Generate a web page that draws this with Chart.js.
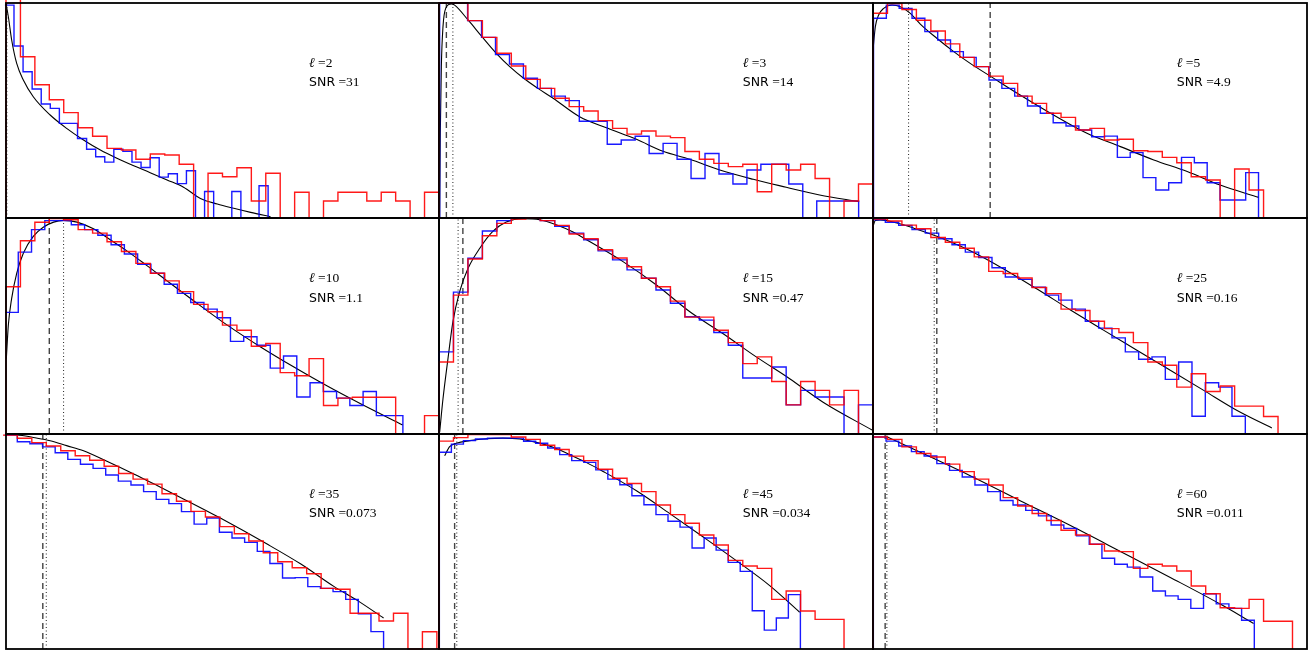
<!DOCTYPE html>
<html>
<head>
<script src="https://cdn.jsdelivr.net/npm/chart.js@4.4.1/dist/chart.umd.min.js"></script>
<style>
  body { margin: 0; background: #fff; width: 1309px; height: 652px; overflow: hidden; position: relative; }
  canvas { position: absolute; }
</style>
</head>
<body>
<script>
// panel labels
var ells = [2, 3, 5, 10, 15, 25, 35, 45, 60];
var snrText = ['31', '14', '4.9', '1.1', '0.47', '0.16', '0.073', '0.034', '0.011'];

// histogram binning (x in % of panel width)
var redStart = [0, 0, 0, 0, 0, 0, -0.72, 0, 0];
var redWidth = [3.333, 3.333, 3.333, 3.333, 3.333, 3.333, 3.341, 3.333, 3.333];
var blueStart = [-0.25, 0.15, 0.12, -0.23, 0, -0.23, -0.31, 0.08, 0.08];
var blueWidth = [2.096, 3.218, 2.957, 3.063, 3.333, 3.072, 2.917, 2.773, 2.926];

// vertical marker lines
var dashedX = [null, 1.7, 27, 10, 5.5, 14.7, 8.5, 3.6, 2.8];
var dottedX = [0.2, 3.2, 8.2, 13.3, 4.4, 14.1, 9.3, 4.1, 3.2];

// histogram heights
var red_l2 = [130, 75, 62, 55, 49, 42, 38, 32.4, 31.6, 27.3, 29.8, 29.3, 25, 0, 20.8, 19.2, 23.4, 7.9, 20.8, 0, 12, 0, 7.9, 12, 12, 7.9, 12, 7.9, 0, 12];
var blue_l2 = [99, 80, 68, 60, 53, 51, 44, 44, 37, 32, 28.5, 26, 32, 31, 26, 23.5, 28, 19, 20.6, 16, 22, 0, 12.3, 0, 0, 12.3, 0, 0, 15, 0];
var red_l3 = [100, 100, 91.8, 84, 76.6, 70.7, 64.5, 60.3, 55.7, 51.8, 49.8, 45.3, 41.7, 39, 40.5, 38.1, 37.4, 30.9, 27.3, 25.4, 23.9, 25, 12.2, 25, 22.3, 25, 18.4, 0, 7.9, 15.8];
var blue_l3 = [100, 100, 91.8, 84, 76, 71.6, 65, 60.3, 56.7, 54.6, 45, 45, 34.3, 36.3, 38, 30, 34.7, 27.3, 18.4, 30, 20.5, 15.8, 22.3, 25, 25, 15.8, 0, 7.9, 7.9, 7.9];
var red_l5 = [95.2, 99.8, 97, 92, 87, 81, 74.7, 70.4, 66, 62.6, 56.7, 53.3, 48.7, 46.8, 40.9, 41.7, 36.3, 36.6, 31.3, 30.9, 28.2, 25.7, 19.2, 17.7, 0, 22.8, 13];
var blue_l5 = [92.9, 99, 97.5, 92.9, 86.7, 82.8, 77.4, 74.7, 70.4, 64.2, 60.3, 56.7, 52.1, 48.7, 44.3, 42.8, 40.9, 37.8, 38.1, 28.2, 30.4, 18.8, 13, 16.4, 28.2, 25.7, 16.4, 8.4, 8.4, 21.1];
var red_l10 = [68.2, 89.5, 98, 99.7, 99.2, 94.6, 93, 89, 84.5, 79, 74.4, 70.9, 65.9, 60, 56.6, 50.4, 48, 40.6, 41.9, 28.4, 27, 34.9, 13.2, 16.6, 17, 17, 17, 0, 0, 8.5];
var blue_l10 = [56.3, 84.2, 94.6, 98.8, 98.8, 96.9, 94.6, 92, 87.6, 83.3, 78.6, 74.4, 69.3, 65.1, 60.9, 57.8, 53.8, 42.9, 45, 41.1, 30.5, 36.1, 17.1, 23.7, 19.7, 16.6, 13.2, 19.7, 8.5, 8.5];
var red_l15 = [33.3, 64.3, 81, 91.8, 97.5, 99.5, 100, 98.8, 96.6, 92.6, 90.4, 85.3, 81.5, 77.4, 72.1, 68.2, 61.5, 54.1, 54.1, 48, 42.3, 32.6, 35.7, 24.3, 13.5, 24.3, 20.2, 13.5, 20.2, 0];
var blue_l15 = [38, 65.7, 81.4, 94, 98.8, 100, 100, 98.8, 96.1, 93, 89.9, 84.8, 80.6, 76, 72.1, 66.7, 60.5, 54.3, 52.7, 47, 41.1, 25.9, 25.9, 31, 13.5, 20.2, 17.1, 17.1, 0, 13.5];
var red_l25 = [99.5, 98.6, 96.7, 95, 91, 88.8, 86, 82, 75.3, 74.3, 72.2, 67.8, 65, 57.8, 57.2, 52.2, 48.8, 47, 42.3, 33.3, 31.8, 21.7, 27.9, 19.7, 22.2, 12.9, 12.9, 8.1];
var blue_l25 = [99.2, 98, 96.6, 94.6, 93, 90.4, 87.6, 84.2, 81.7, 77, 72.7, 71.6, 68, 64.3, 62, 57.8, 52.2, 49, 44.5, 38, 34.6, 35.7, 25.3, 33.3, 8.2, 23.7, 21.7, 8.2];
var red_l35 = [99.5, 98, 96, 94.4, 92.2, 89.9, 87.8, 85, 81.6, 79, 76.7, 72.2, 68.7, 64, 61.4, 56.9, 53.6, 50.2, 44.8, 40.6, 37.8, 35, 28.2, 27.8, 16.6, 16.6, 13, 16.6, 0, 8];
var blue_l35 = [99.5, 96.4, 95.5, 94, 91.3, 88.2, 85.9, 84, 80.9, 78.1, 76.3, 73.2, 69.6, 67.6, 63.9, 58.1, 60.9, 54.3, 51.6, 49.6, 45.4, 39.8, 33, 33.2, 29, 28.2, 26.7, 23.1, 16.4, 8.1];
var red_l45 = [96.7, 98.3, 99.8, 99.8, 99.8, 98.6, 97.5, 94.8, 92.8, 89.7, 87.6, 83.6, 79.4, 77, 73.2, 67, 62.5, 58.5, 53, 48.4, 41.2, 38.6, 37.5, 23.1, 27, 17.7, 13.8, 13.8];
var blue_l45 = [91.5, 95.3, 96.9, 97.7, 98.1, 98.1, 98.1, 96.6, 95.7, 93.5, 90.4, 87.6, 86.8, 83.3, 79, 76.4, 71.3, 67.1, 62.5, 59.4, 56.7, 47, 51.6, 46, 40.3, 36.1, 17.8, 8.8, 14.4, 25.3];
var red_l60 = [98.6, 97.5, 94, 90.9, 89.3, 86, 82.5, 79, 76.3, 70.4, 66.5, 63, 59.8, 55.2, 53, 48.7, 45.6, 45.3, 37.5, 39.4, 38.6, 36.3, 29.3, 25.7, 19.2, 18.9, 23.1, 12.9, 12.9];
var blue_l60 = [98.6, 96.7, 94.4, 91.8, 89.8, 86.2, 83.1, 80, 76.3, 73.2, 69.1, 67, 64.5, 61.9, 57.7, 56.1, 52.6, 48.7, 42.2, 39.4, 38.1, 33.5, 27, 24.7, 23.1, 18.9, 25.7, 21, 18.9, 13.4];

// model curves (x %, y)
var curveX_l2 = [0, 0.54, 1.31, 2.47, 4.0, 6.3, 10.2, 14.0, 17.9, 21.8, 25.6, 29.5, 33.3, 37.2, 41.0, 44.9, 48.8, 52.6, 56.5, 61.1];
var curveY_l2 = [99.8, 93.6, 82.8, 71.9, 64.2, 56.4, 47.9, 41.7, 36.3, 31.6, 27.8, 24.3, 21.1, 17.7, 14.3, 9.1, 6.5, 4.5, 2.6, 0.6];
var curveX_l3 = [0.15, 0.3, 0.54, 0.92, 1.54, 2.84, 3.6, 6.7, 9.75, 13.2, 16.3, 19.5, 22.8, 26.3, 32.4, 38.9, 45.5, 51.6, 57.8, 64.7, 72.4, 80, 87.7, 96.8];
var curveY_l3 = [0, 39.4, 70.4, 89, 97.5, 99.6, 99, 92.1, 84.7, 76.6, 70.4, 65, 60.3, 55.7, 47.1, 41.7, 36.6, 31, 27.3, 22.3, 18, 14.3, 10.7, 7.6];
var curveX_l5 = [0, 0.54, 1.3, 2.46, 4.38, 6.3, 8.6, 10.9, 14.7, 18.6, 22.4, 27, 33.9, 41.6, 49.3, 57, 64.7, 72.4, 80, 88.9];
var curveY_l5 = [78.1, 89, 94.4, 97.5, 99.1, 98.3, 95.2, 90.2, 83.6, 77.4, 71.9, 66, 57.2, 47.9, 39.4, 33.2, 27, 21.6, 15.3, 9.6];
var curveX_l10 = [0.08, 0.54, 1.31, 2.47, 4.0, 6.3, 8.6, 11, 13.3, 16.4, 20.2, 24.1, 27.9, 31.8, 37.2, 43.4, 51.1, 58.8, 66.5, 74.2, 81.9, 91.6];
var curveY_l10 = [34.9, 50.4, 62.8, 74.4, 83.7, 91.5, 95.7, 98.1, 98.9, 98.1, 95, 89.9, 84.8, 79.1, 70.9, 61.6, 50.4, 40.3, 31, 22.2, 14, 4.2];
var curveX_l15 = [0.15, 0.92, 2.07, 3.2, 4.76, 6.7, 9.4, 12.4, 15.5, 19.4, 23.2, 27, 30.9, 34.7, 42.4, 50.1, 57.8, 65.4, 73.1, 80.8, 88.5, 100];
var curveY_l15 = [0.8, 16.3, 34.9, 51.9, 65.9, 76.7, 86, 93.8, 98.1, 99.7, 99.2, 96.9, 93.5, 89.1, 79.8, 69, 56.6, 46.5, 35.7, 25.6, 14.7, 1.6];
var curveX_l25 = [0, 0.54, 1.7, 5.5, 9.4, 14.7, 22.4, 30.1, 37.8, 45.5, 53.1, 60.8, 68.5, 76.2, 83.9, 91.9];
var curveY_l25 = [96.1, 98.8, 99.1, 97.7, 95.3, 91.5, 84.8, 76.4, 67.1, 57.4, 48.1, 38.8, 29.5, 20.2, 10.9, 2.8];
var curveX_l35 = [2.47, 6.3, 10.2, 14, 17.9, 23.3, 29.5, 34.9, 40.3, 49.5, 60.3, 68.1, 75.8, 81.2, 87.2];
var curveY_l35 = [99.7, 98.4, 96.9, 94.6, 92.2, 87.3, 81.4, 76, 70.5, 60.9, 48.8, 39.5, 29, 22.5, 14.4];
var curveX_l45 = [1.3, 2.46, 4, 7.1, 10.9, 14.7, 18.6, 22.4, 26.3, 30.1, 33.9, 37.8, 45.5, 53.1, 60.8, 68.5, 76.2, 83.1];
var curveY_l45 = [89.9, 94.1, 95.7, 96.9, 97.8, 98.1, 97.7, 96.1, 93.8, 90.4, 86.8, 82.6, 73.6, 63.1, 52.2, 41.1, 29.5, 17.1];
var curveX_l60 = [3.07, 10.9, 22.4, 33.9, 45.5, 57, 68.5, 80, 87.7];
var curveY_l60 = [98.8, 91.5, 80.6, 69, 57.4, 45.4, 33.3, 20.9, 11.9];

var redSets = [red_l2, red_l3, red_l5, red_l10, red_l15, red_l25, red_l35, red_l45, red_l60];
var blueSets = [blue_l2, blue_l3, blue_l5, blue_l10, blue_l15, blue_l25, blue_l35, blue_l45, blue_l60];
var curveXs = [curveX_l2, curveX_l3, curveX_l5, curveX_l10, curveX_l15, curveX_l25, curveX_l35, curveX_l45, curveX_l60];
var curveYs = [curveY_l2, curveY_l3, curveY_l5, curveY_l10, curveY_l15, curveY_l25, curveY_l35, curveY_l45, curveY_l60];

// page layout
var colLeft = [6, 439, 873];
var colWidth = [433, 434, 434];
var rowTop = [3, 218, 434];
var rowHeight = [215, 216, 215];
var pad = 10;

function histPoints(start, width, counts) {
  var pts = [{x: start, y: 0}];
  for (var i = 0; i < counts.length; i++) {
    pts.push({x: start + i * width, y: counts[i]});
  }
  pts.push({x: start + counts.length * width, y: 0});
  return pts;
}

function drawRuns(ctx, x, y, runs) {
  for (var i = 0; i < runs.length; i++) {
    ctx.font = runs[i][1];
    ctx.fillText(runs[i][0], x, y);
    x += ctx.measureText(runs[i][0]).width;
  }
}

var panelDeco = {
  id: 'panelDeco',
  afterDraw: function(chart) {
    var ctx = chart.ctx, a = chart.chartArea;
    var k = chart.options.plugins.panelDeco.index;
    var xs = chart.scales.x, ys = chart.scales.y;
    ctx.save();
    ctx.fillStyle = '#000';
    ctx.textBaseline = 'alphabetic';
    var tx = xs.getPixelForValue(70);
    var serif = '13.5px "Liberation Serif"';
    drawRuns(ctx, tx, ys.getPixelForValue(70.3), [
      ['\u2113', 'italic 13.5px "DejaVu Serif"'], [' =' + ells[k], serif]]);
    drawRuns(ctx, tx, ys.getPixelForValue(61.3), [
      ['SNR', '12.5px "DejaVu Sans"'], [' =' + snrText[k], serif]]);
    ctx.strokeStyle = '#000';
    ctx.lineWidth = 1.8;
    ctx.strokeRect(a.left, a.top, a.right - a.left, a.bottom - a.top);
    ctx.restore();
  }
};

for (var k = 0; k < 9; k++) {
  var col = k % 3, row = Math.floor(k / 3);
  var cv = document.createElement('canvas');
  cv.width = colWidth[col] + 2 * pad;
  cv.height = rowHeight[row] + 2 * pad;
  cv.style.left = (colLeft[col] - pad) + 'px';
  cv.style.top = (rowTop[row] - pad) + 'px';
  document.body.appendChild(cv);

  var curve = curveXs[k].map(function(x, i) { return {x: x, y: curveYs[k][i]}; });
  var datasets = [
    {data: histPoints(redStart[k], redWidth[k], redSets[k]), borderColor: 'rgba(255,0,0,0.9)', borderWidth: 1.4, stepped: true},
    {data: histPoints(blueStart[k], blueWidth[k], blueSets[k]), borderColor: 'rgba(0,0,255,0.9)', borderWidth: 1.4, stepped: true},
    {data: curve, borderColor: '#000', borderWidth: 1.1, cubicInterpolationMode: 'monotone'}
  ];
  if (dashedX[k] !== null) {
    datasets.push({data: [{x: dashedX[k], y: 0}, {x: dashedX[k], y: 100}], borderColor: '#444', borderWidth: 1.4, borderDash: [6, 4]});
  }
  datasets.push({data: [{x: dottedX[k], y: 0}, {x: dottedX[k], y: 100}], borderColor: '#222', borderWidth: 1, borderDash: [1, 2.5]});

  new Chart(cv, {
    type: 'line',
    data: {datasets: datasets},
    options: {
      responsive: false,
      animation: false,
      layout: {padding: pad},
      elements: {point: {radius: 0}},
      datasets: {line: {fill: false, clip: {left: 3, top: 3, right: 3, bottom: 3}}},
      scales: {
        x: {type: 'linear', min: 0, max: 100, display: false},
        y: {type: 'linear', min: 0, max: 100, display: false}
      },
      plugins: {
        legend: {display: false},
        tooltip: {enabled: false},
        panelDeco: {index: k}
      }
    },
    plugins: [panelDeco]
  });
}
</script>
</body>
</html>
